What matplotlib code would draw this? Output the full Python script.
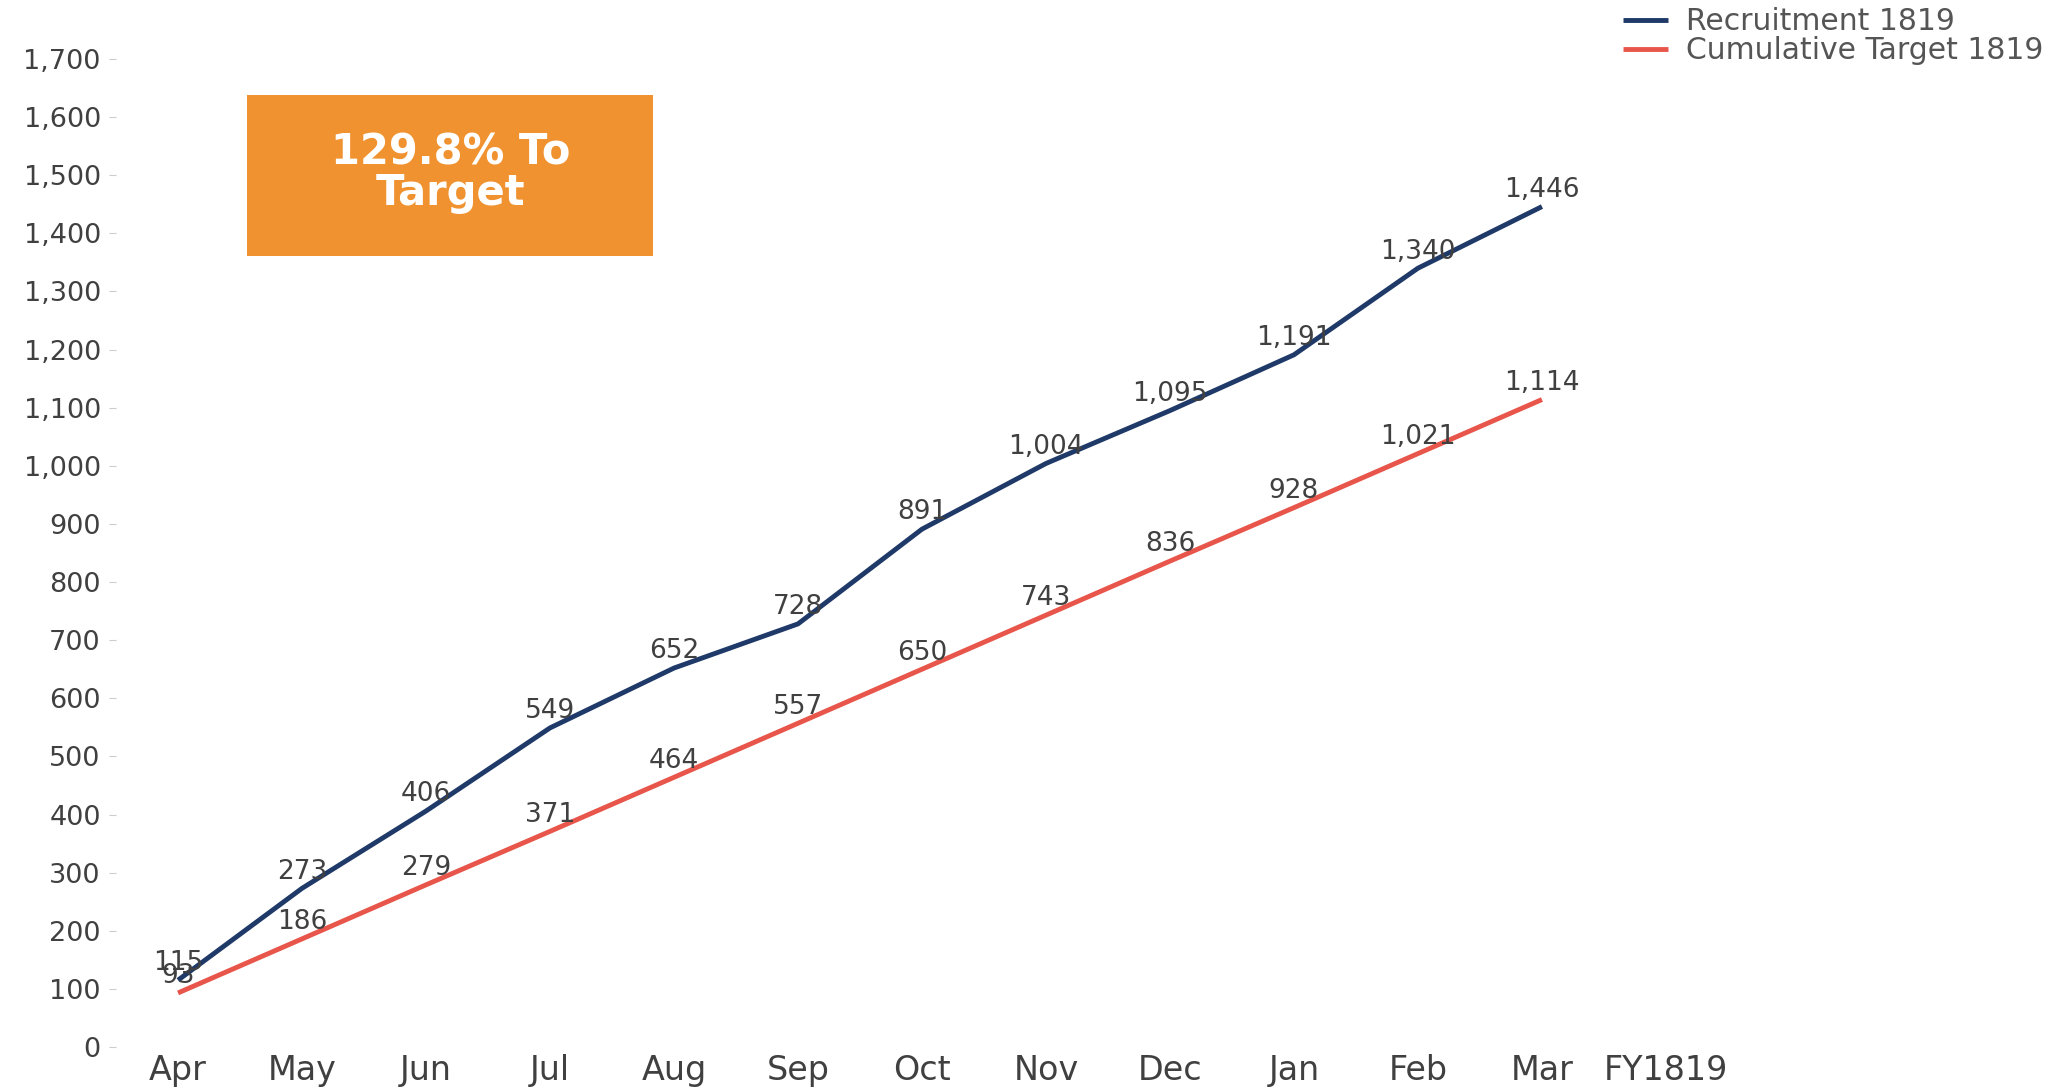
import matplotlib
matplotlib.use("Agg")
import matplotlib.pyplot as plt
from matplotlib.patches import Rectangle

months = ["Apr", "May", "Jun", "Jul", "Aug", "Sep", "Oct", "Nov", "Dec", "Jan", "Feb", "Mar", "FY1819"]
recruitment = [115, 273, 406, 549, 652, 728, 891, 1004, 1095, 1191, 1340, 1446]
target = [93, 186, 279, 371, 464, 557, 650, 743, 836, 928, 1021, 1114]
yticks = list(range(0, 1701, 100))

plt.rcParams['font.family'] = ['DejaVu Sans']
NAVY = "#1f3a68"
RED = "#e8564b"
GRAY = "#404040"

fig = plt.figure(figsize=(20.61, 10.88), dpi=100)
ax = fig.add_axes([0.0563, 0.0377, 0.7821, 0.9081])

x = list(range(len(months)))
ax.plot(x[:len(recruitment)], recruitment, color=NAVY, lw=3.5, label="Recruitment 1819", solid_capstyle='butt')
ax.plot(x[:len(target)], target, color=RED, lw=3.5, label="Cumulative Target 1819", solid_capstyle='butt')

for xi, v in zip(x, recruitment):
    ax.annotate(f"{v:,}", (xi, v), xytext=(0, 12), textcoords="offset points",
                ha="center", va="center", fontsize=19, color=GRAY)
for xi, v in zip(x, target):
    ax.annotate(f"{v:,}", (xi, v), xytext=(0, 12), textcoords="offset points",
                ha="center", va="center", fontsize=19, color=GRAY)

ax.set_xlim(-0.5, len(months) - 0.5)
ax.set_ylim(0, 1700)
ax.set_xticks(x)
ax.set_xticklabels(months, fontsize=24, color=GRAY)
ax.set_yticks(yticks)
ax.set_yticklabels([f"{t:,}" for t in yticks], fontsize=19.5, color=GRAY)
ax.tick_params(axis='x', length=0, pad=5)
ax.tick_params(axis='y', length=5, color="#cccccc", pad=6)
for s in ax.spines.values():
    s.set_visible(False)

# orange box
fig.patches.append(Rectangle((247 / 2061, 1 - 256 / 1088), (653 - 247) / 2061, (256 - 95) / 1088,
                             transform=fig.transFigure, facecolor="#f0922f", edgecolor="none"))
fig.text(451 / 2061, 1 - 173 / 1088, "129.8% To\nTarget", ha="center", va="center",
         fontsize=30, fontweight="bold", color="white", linespacing=0.95)

leg = fig.legend(loc="upper left", bbox_to_anchor=(1596 / 2061, 1.018), frameon=False,
                 fontsize=21.5, handlelength=1.5, handletextpad=0.6, labelspacing=0.0,
                 labelcolor="#555555")

fig.savefig("out.png", dpi=100)
